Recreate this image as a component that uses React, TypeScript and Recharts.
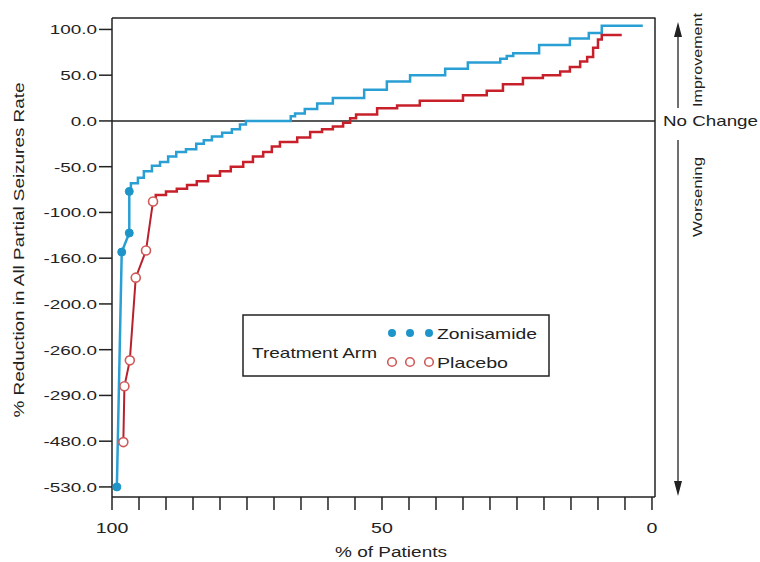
import React from 'react';
import { LineChart, Line, XAxis, YAxis, ReferenceLine } from 'recharts';

const yTickValues = [-530, -480, -290, -260, -200, -160, -100, -50, 0, 50, 100];
const yTickLabels = ['-530.0', '-480.0', '-290.0', '-260.0', '-200.0', '-160.0', '-100.0', '-50.0', '0.0', '50.0', '100.0'];
const xTickValues = [0, 5, 10, 15, 20, 25, 30, 35, 40, 45, 50, 55, 60, 65, 70, 75, 80, 85, 90, 95, 100];
const xTickLabels = ['0', '50', '100'];

const zonisamideOutlierPct = [99.1, 98.2, 96.8, 96.8];
const zonisamideOutlierReduction = [-530, -152, -127, -77];
const zonisamidePct = [96.8, 96.5, 95.2, 94.1, 92.6, 91.1, 89.6, 88.1, 86.3, 84.4, 83.0, 81.5, 79.6, 77.8, 76.3, 75.2, 66.9, 66.1, 64.3, 62.0, 59.1, 53.3, 49.1, 44.8, 38.3, 34.1, 28.1, 26.9, 25.7, 20.9, 15.2, 11.7, 9.3, 1.7];
const zonisamideReduction = [-77, -68, -62, -55, -49, -45, -39, -34, -31, -25, -21, -17, -13, -9, -4, 0, 5, 8, 13, 19, 25, 34, 43, 50, 57, 64, 68, 71, 74, 83, 90, 96, 104, 104];

const placeboOutlierPct = [97.9, 97.7, 96.7, 95.6, 93.7, 92.4];
const placeboOutlierReduction = [-481, -284, -267, -177, -150, -88];
const placeboPct = [92.4, 91.9, 90.0, 88.0, 86.1, 84.3, 82.2, 80.0, 78.0, 75.7, 73.9, 72.0, 70.4, 68.9, 65.7, 63.3, 61.1, 59.1, 57.2, 55.9, 54.8, 50.9, 47.2, 43.0, 35.0, 30.6, 27.6, 23.9, 20.2, 17.0, 15.2, 13.3, 12.0, 10.9, 10.0, 9.3, 5.6];
const placeboReduction = [-88, -81, -77, -74, -70, -66, -60, -55, -50, -45, -39, -34, -28, -23, -18, -12, -9, -6, -2, 3, 7, 14, 17, 22, 28, 33, 40, 47, 50, 54, 59, 65, 70, 80, 89, 94, 94];

// the axis spaces its labelled reductions evenly: map a reduction onto that axis
function toAxis(v: number): number {
  const t = yTickValues;
  const n = t.length;
  if (v >= t[n - 1]) return n - 1 + (v - t[n - 1]) / (t[n - 1] - t[n - 2]);
  if (v <= t[0]) return (v - t[0]) / (t[1] - t[0]);
  for (let i = 0; i < n - 1; i++) {
    if (v >= t[i] && v <= t[i + 1]) return i + (v - t[i]) / (t[i + 1] - t[i]);
  }
  return 0;
}

const build = (pct: number[], red: number[]) => pct.map((p, i) => ({ x: p, y: toAxis(red[i]), reduction: red[i] }));

const zonOutliers = build(zonisamideOutlierPct, zonisamideOutlierReduction);
const zonSteps = build(zonisamidePct, zonisamideReduction);
const plaOutliers = build(placeboOutlierPct, placeboOutlierReduction);
const plaSteps = build(placeboPct, placeboReduction);

const FONT = "'Liberation Sans', Arial, Helvetica, sans-serif";
const INK = '#222';
const BLUE = '#2a9fd3';
const RED = '#c8202b';

const YTick = (props: any) => {
  const { x, y, payload } = props;
  const label = yTickLabels[Math.round(payload.value)];
  return (
    <text transform={`translate(${x},${y}) scale(1.4,1)`} textAnchor="end" dy="0.36em" fontSize={13.5} fontFamily={FONT} fill={INK}>
      {label}
    </text>
  );
};

const XTick = (props: any) => {
  const { x, y, payload } = props;
  const s = String(payload.value);
  if (!xTickLabels.includes(s)) return <g />;
  return (
    <text transform={`translate(${x},${y + 21}) scale(1.4,1)`} textAnchor="middle" fontSize={14} fontFamily={FONT} fill={INK}>
      {s}
    </text>
  );
};

export default function App() {
  return (
    <div style={{ position: 'absolute', left: 0, top: 0, width: 760, height: 562, background: '#fff' }}>
      <LineChart width={760} height={562} margin={{ top: 18, right: 105, bottom: 0, left: 0 }}>
        <XAxis
          type="number"
          dataKey="x"
          domain={[-0.56, 100]}
          reversed
          allowDataOverflow
          ticks={xTickValues}
          interval={0}
          tickSize={13}
          height={65}
          axisLine={{ stroke: INK, strokeWidth: 1.5 }}
          tickLine={{ stroke: INK, strokeWidth: 1.5 }}
          tick={(p: any) => <XTick {...p} />}
        />
        <YAxis
          type="number"
          dataKey="y"
          domain={[-0.22, 10.25]}
          allowDataOverflow
          ticks={[0, 1, 2, 3, 4, 5, 6, 7, 8, 9, 10]}
          interval={0}
          tickSize={13}
          width={112}
          axisLine={{ stroke: INK, strokeWidth: 1.5 }}
          tickLine={{ stroke: INK, strokeWidth: 1.5 }}
          tick={(p: any) => <YTick {...p} />}
        />
        <ReferenceLine y={toAxis(0)} stroke={INK} strokeWidth={1.5} />
        <Line data={zonSteps} dataKey="y" type="stepAfter" stroke={BLUE} strokeWidth={2.5} dot={false} activeDot={false} isAnimationActive={false} />
        <Line data={plaSteps} dataKey="y" type="stepAfter" stroke={RED} strokeWidth={2.5} dot={false} activeDot={false} isAnimationActive={false} />
        <Line data={zonOutliers} dataKey="y" type="linear" stroke={BLUE} strokeWidth={2.5} dot={{ r: 4, fill: '#1e95c8', stroke: '#1e95c8', strokeWidth: 1 }} activeDot={false} isAnimationActive={false} />
        <Line data={plaOutliers} dataKey="y" type="linear" stroke="#b8202e" strokeWidth={2} dot={{ r: 4.5, fill: '#fff', stroke: '#cf5a58', strokeWidth: 1.6 }} activeDot={false} isAnimationActive={false} />
      </LineChart>
      <svg width={760} height={562} style={{ position: 'absolute', left: 0, top: 0, pointerEvents: 'none' }}>
        <line x1={112} y1={18} x2={655.5} y2={18} stroke={INK} strokeWidth={1.5} />
        <line x1={655} y1={18} x2={655} y2={497} stroke={INK} strokeWidth={1.5} />
        <text x={663} y={125.5} fontSize={15} fontFamily={FONT} fill={INK} textLength={95} lengthAdjust="spacingAndGlyphs">No Change</text>
        <line x1={678} y1={108} x2={678} y2={34} stroke={INK} strokeWidth={1.3} />
        <polygon points="678,22 674,37 682,37" fill={INK} />
        <line x1={678} y1={140} x2={678} y2={484} stroke={INK} strokeWidth={1.3} />
        <polygon points="678,496 674,481 682,481" fill={INK} />
        <text transform="translate(702,60) rotate(-90)" textAnchor="middle" fontSize={12} fontFamily={FONT} fill={INK} textLength={94} lengthAdjust="spacingAndGlyphs">Improvement</text>
        <text transform="translate(702,197) rotate(-90)" textAnchor="middle" fontSize={12} fontFamily={FONT} fill={INK} textLength={80} lengthAdjust="spacingAndGlyphs">Worsening</text>
        <text transform="translate(24,250) rotate(-90)" textAnchor="middle" fontSize={14} fontFamily={FONT} fill={INK} textLength={335} lengthAdjust="spacingAndGlyphs">% Reduction in All Partial Seizures Rate</text>
        <text x={391} y={557} textAnchor="middle" fontSize={14} fontFamily={FONT} fill={INK} textLength={112} lengthAdjust="spacingAndGlyphs">% of Patients</text>
        <rect x={243} y={315} width={306} height={61} fill="#fff" stroke={INK} strokeWidth={1.5} />
        <text x={252} y={358} fontSize={15} fontFamily={FONT} fill={INK} textLength={125} lengthAdjust="spacingAndGlyphs">Treatment Arm</text>
        {[392, 410, 429].map((cx) => (
          <circle key={'z' + cx} cx={cx} cy={333} r={4} fill="#1e95c8" />
        ))}
        {[392, 410, 429].map((cx) => (
          <circle key={'p' + cx} cx={cx} cy={362} r={4.3} fill="#fff" stroke="#cf5a58" strokeWidth={1.6} />
        ))}
        <text x={437} y={338.5} fontSize={15} fontFamily={FONT} fill={INK} textLength={100} lengthAdjust="spacingAndGlyphs">Zonisamide</text>
        <text x={437} y={367.5} fontSize={15} fontFamily={FONT} fill={INK} textLength={71} lengthAdjust="spacingAndGlyphs">Placebo</text>
      </svg>
    </div>
  );
}
